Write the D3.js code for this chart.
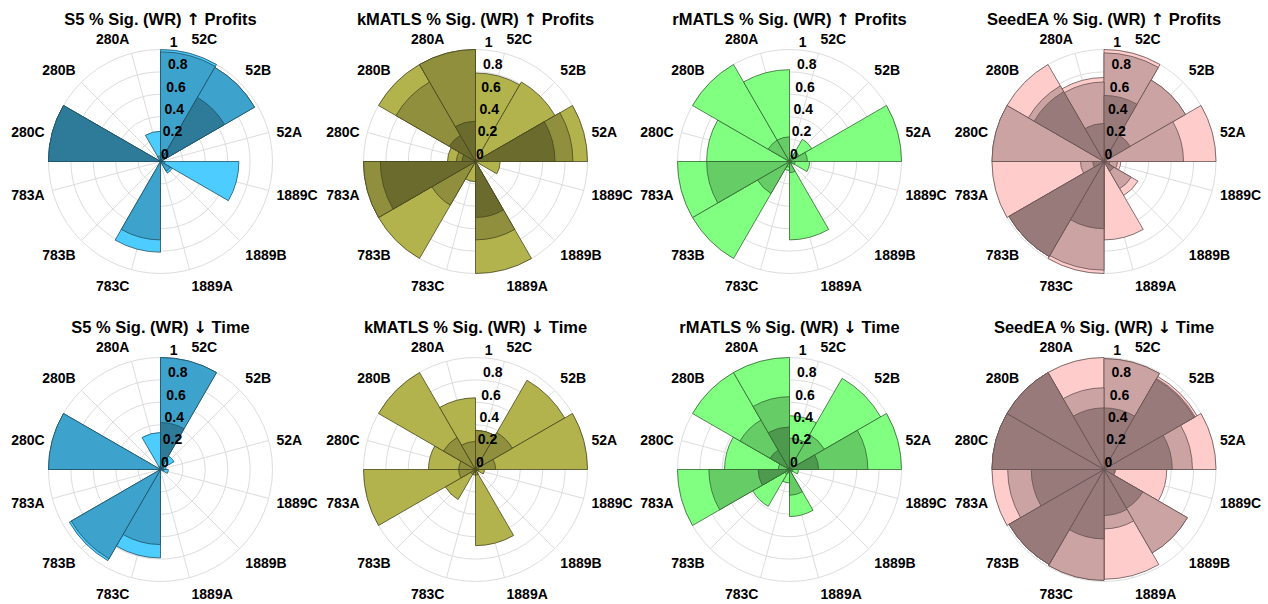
<!DOCTYPE html>
<html>
<head>
<meta charset="utf-8">
<script src="https://cdn.jsdelivr.net/npm/d3@7"></script>
<style>
body { margin: 0; background: #fff; }
text { font-family: "Liberation Sans", Arial, sans-serif; font-weight: bold; fill: #000; }
</style>
</head>
<body>
<div id="mainvis"></div>
<script>
// categories, clockwise from 12 o'clock
let sites = ["52C", "52B", "52A", "1889C", "1889B", "1889A", "783C", "783B", "783A", "280C", "280B", "280A"];
let rTicks = [0, 0.2, 0.4, 0.6, 0.8, 1];

// three levels per chart: light (back), mid, dark (front)
let s5ProfitsLight = [1.0, 0.97, 0, 0.70, 0.12, 0, 0.81, 0, 0, 1.0, 0, 0.27];
let s5ProfitsMid   = [0.98, 0.97, 0, 0.04, 0.10, 0, 0.70, 0, 0, 1.0, 0, 0.05];
let s5ProfitsDark  = [0.08, 0.66, 0, 0, 0, 0, 0, 0, 0, 1.0, 0, 0];

let kmProfitsLight = [0.79, 0.82, 1.0, 0.22, 0, 1.0, 0.18, 1.0, 1.0, 0.25, 1.0, 1.0];
let kmProfitsMid   = [0, 0, 0.87, 0, 0, 0.70, 0, 0.45, 1.0, 0.17, 0.82, 1.0];
let kmProfitsDark  = [0, 0, 0.71, 0, 0, 0.50, 0, 0, 0.85, 0.12, 0.27, 0.36];

let rmProfitsLight = [0.05, 0.23, 1.0, 0.18, 0.03, 0.70, 0.08, 1.0, 1.0, 0.74, 1.0, 0.82];
let rmProfitsMid   = [0.03, 0.10, 0.16, 0.05, 0, 0.10, 0.05, 0.33, 0.74, 0, 0.22, 0.22];
let rmProfitsDark  = [0, 0, 0, 0, 0, 0, 0, 0, 0, 0, 0, 0];

let seProfitsLight = [1.0, 0.84, 1.0, 0.15, 0.35, 0.70, 1.0, 0.98, 1.0, 1.0, 1.0, 0.75];
let seProfitsMid   = [0.97, 0.84, 0.71, 0.12, 0.28, 0, 0.97, 0.98, 0.21, 1.0, 0.78, 0.71];
let seProfitsDark  = [0.59, 0.27, 0, 0.05, 0.10, 0, 0.60, 0.98, 0.10, 0, 0.72, 0.34];

let s5TimeLight = [1.0, 0.14, 0.05, 0.07, 0, 0, 0.79, 0.94, 0, 1.0, 0, 0.33];
let s5TimeMid   = [1.0, 0.03, 0.03, 0.03, 0, 0, 0.67, 0.92, 0, 1.0, 0, 0.03];
let s5TimeDark  = [0.42, 0, 0, 0, 0, 0, 0, 0, 0, 0, 0, 0];

let kmTimeLight = [0.35, 0.92, 1.0, 0.08, 0, 0.68, 0.05, 0.31, 1.0, 0.42, 1.0, 0.64];
let kmTimeMid   = [0.35, 0.38, 0.18, 0.03, 0, 0.05, 0.03, 0.05, 0.15, 0.15, 0.33, 0.25];
let kmTimeDark  = [0, 0, 0, 0, 0, 0, 0, 0, 0, 0, 0, 0];

let rmTimeLight = [0.48, 0.94, 1.0, 0.08, 0.03, 0.42, 0.12, 0.38, 1.0, 0.58, 1.0, 1.0];
let rmTimeMid   = [0.28, 0.36, 0.70, 0.03, 0, 0.23, 0.03, 0.05, 0.72, 0.10, 0.51, 0.65];
let rmTimeDark  = [0.05, 0, 0.26, 0, 0, 0, 0, 0, 0.28, 0, 0.20, 0.38];

let seTimeLight = [0.99, 0.96, 1.0, 0.56, 0.86, 0.98, 0.99, 0.98, 1.0, 1.0, 1.0, 1.0];
let seTimeMid   = [0.99, 0.94, 0.79, 0.10, 0.86, 0.53, 0.99, 0.98, 0.86, 1.0, 1.0, 0.73];
let seTimeDark  = [0.55, 0.93, 0.61, 0.10, 0.40, 0.41, 0.62, 0.98, 0.65, 1.0, 1.0, 0.55];

let palettes = {
    blue:  ["#4dccff", "#3da3cc", "#2e7a99", "#1f5266"],
    olive: ["#b3b34d", "#8f8f3d", "#6b6b2e", "#48481f"],
    green: ["#80ff80", "#66cc66", "#4d994d", "#336633"],
    pink:  ["#ffcccc", "#cca3a3", "#997a7a", "#665252"]
};

let panels = [
    {metric: "S5",     arrow: "\u2191", goal: "Profits", col: 0, row: 0, pal: "blue",  data: [s5ProfitsLight, s5ProfitsMid, s5ProfitsDark]},
    {metric: "kMATLS", arrow: "\u2191", goal: "Profits", col: 1, row: 0, pal: "olive", data: [kmProfitsLight, kmProfitsMid, kmProfitsDark]},
    {metric: "rMATLS", arrow: "\u2191", goal: "Profits", col: 2, row: 0, pal: "green", data: [rmProfitsLight, rmProfitsMid, rmProfitsDark]},
    {metric: "SeedEA", arrow: "\u2191", goal: "Profits", col: 3, row: 0, pal: "pink",  data: [seProfitsLight, seProfitsMid, seProfitsDark]},
    {metric: "S5",     arrow: "\u2193", goal: "Time",    col: 0, row: 1, pal: "blue",  data: [s5TimeLight, s5TimeMid, s5TimeDark]},
    {metric: "kMATLS", arrow: "\u2193", goal: "Time",    col: 1, row: 1, pal: "olive", data: [kmTimeLight, kmTimeMid, kmTimeDark]},
    {metric: "rMATLS", arrow: "\u2193", goal: "Time",    col: 2, row: 1, pal: "green", data: [rmTimeLight, rmTimeMid, rmTimeDark]},
    {metric: "SeedEA", arrow: "\u2193", goal: "Time",    col: 3, row: 1, pal: "pink",  data: [seTimeLight, seTimeMid, seTimeDark]}
];

let svg = d3.select("#mainvis")
    .append("svg")
    .attr("width", 1268)
    .attr("height", 604);

let centersX = [160.5, 475.5, 789.5, 1104];
let centersY = [161.5, 469.5];
let radius = 112;

let angle = d3.scaleBand()
    .domain(sites)
    .range([0, 2 * Math.PI]);

let rScale = d3.scaleLinear()
    .domain([0, 1])
    .range([0, radius]);

let arc = d3.arc();

function drawRose(p) {
    let cols = palettes[p.pal];
    let g = svg.append("g")
        .attr("transform", "translate(" + centersX[p.col] + "," + centersY[p.row] + ")");

    // grid
    g.selectAll(".ring")
        .data(rTicks.slice(1))
        .enter()
        .append("circle")
        .attr("r", d => rScale(d))
        .style("fill", "none")
        .style("stroke", "#dddddd")
        .style("stroke-width", 1);

    g.selectAll(".spoke")
        .data(sites)
        .enter()
        .append("line")
        .attr("x1", 0).attr("y1", 0)
        .attr("x2", d => radius * Math.sin(angle(d) + angle.bandwidth() / 2))
        .attr("y2", d => -radius * Math.cos(angle(d) + angle.bandwidth() / 2))
        .style("stroke", "#dddddd")
        .style("stroke-width", 1);

    // bars, light first, dark on top
    p.data.forEach(function(values, level) {
        g.selectAll(".bar" + level)
            .data(sites.map((s, i) => ({site: s, v: values[i]})).filter(d => d.v > 0))
            .enter()
            .append("path")
            .attr("d", d => arc({
                innerRadius: 0,
                outerRadius: rScale(d.v),
                startAngle: angle(d.site),
                endAngle: angle(d.site) + angle.bandwidth()
            }))
            .style("fill", cols[level])
            .style("stroke", cols[3])
            .style("stroke-width", 0.8);
    });

    // category labels
    let labR = radius + 8;
    g.selectAll(".thlabel")
        .data(sites)
        .enter()
        .append("text")
        .each(function(d) {
            let a = angle(d) + angle.bandwidth() / 2;
            let s = Math.sin(a), c = Math.cos(a);
            let x = labR * s, y = -labR * c;
            let dy = c > 0.5 ? -1.5 : (c < -0.5 ? 14 : 7);
            d3.select(this)
                .attr("x", x)
                .attr("y", y + dy)
                .attr("text-anchor", s > 0.05 ? "start" : (s < -0.05 ? "end" : "middle"));
        })
        .style("font-size", "14px")
        .text(d => d);

    // radial tick labels
    let ra = 4.5 * Math.PI / 180;
    g.selectAll(".rlabel")
        .data(rTicks)
        .enter()
        .append("text")
        .attr("x", d => rScale(d) * Math.sin(ra) + 0.5)
        .attr("y", d => -rScale(d) * Math.cos(ra) - 3)
        .style("font-size", "14px")
        .text(d => d3.format("~g")(d));

    let title = g.append("text")
        .attr("x", 0)
        .attr("y", -137)
        .attr("text-anchor", "middle")
        .style("font-size", "16.5px");
    title.append("tspan").text(p.metric + " % Sig. (WR) ");
    title.append("tspan").style("font-family", "'DejaVu Sans'").text(p.arrow);
    title.append("tspan").text(" " + p.goal);
}

panels.forEach(drawRose);
</script>
</body>
</html>
